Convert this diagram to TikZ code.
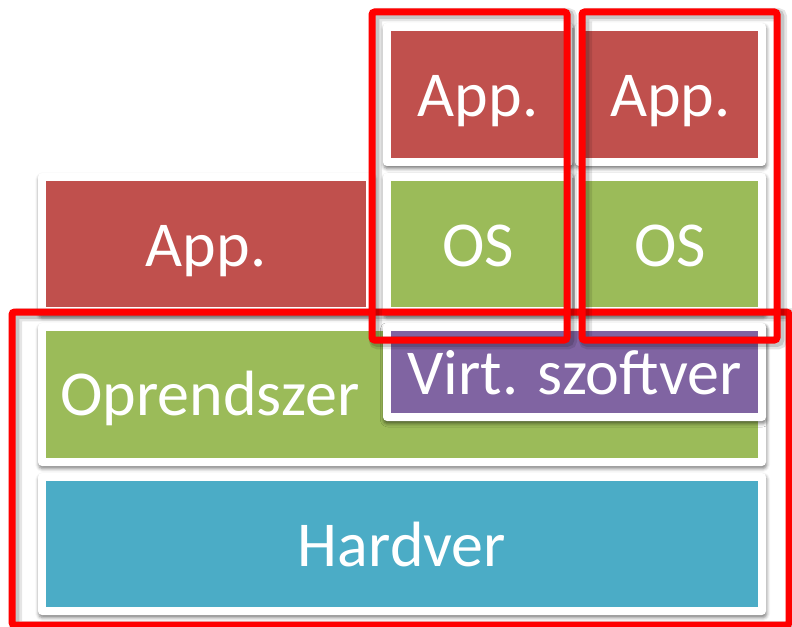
\documentclass[tikz,border=0pt]{standalone}
\usepackage{fontspec}
\setmainfont{Carlito}
\usetikzlibrary{shadows.blur}
\definecolor{appred}{HTML}{C0504D}
\definecolor{osgreen}{HTML}{9BBB59}
\definecolor{virtpurple}{HTML}{8064A2}
\definecolor{hwblue}{HTML}{4BACC6}
\definecolor{framered}{HTML}{FF0000}
\begin{document}
\begin{tikzpicture}[x=0.75pt,y=-0.75pt,
  layerbox/.style={fill=white, draw=none, rounded corners=3pt, inner sep=0pt,
    text=white, font=\fontsize{48}{56}\selectfont, text height=33.6pt, text depth=0pt,
    path picture={\fill[#1, sharp corners]
      ([shift={(6pt,-6pt)}]path picture bounding box.north west) rectangle
      ([shift={(-6pt,6pt)}]path picture bounding box.south east);},
    blur shadow={shadow xshift=0.5pt, shadow yshift=-2pt, shadow blur radius=2.5pt,
      shadow opacity=50}},
  vmframe/.style={draw=framered, line width=5.25pt, rounded corners=2pt, inner sep=0pt,
    preaction={draw=black, draw opacity=0.10, line width=10pt,
      transform canvas={xshift=2.6pt, yshift=-2pt}},
    preaction={draw=black, draw opacity=0.14, line width=7pt,
      transform canvas={xshift=2pt, yshift=-1.6pt}}},
  labeltext/.style={text=white, font=\fontsize{48}{56}\selectfont, inner sep=0pt}]
  \useasboundingbox (0,0) rectangle (792,627);
  % host stack
  \node[layerbox=appred, minimum width=252pt, minimum height=106.5pt] (appL) at (206,244) {App.};
  \node[layerbox=osgreen, minimum width=546pt, minimum height=107.25pt] (opr) at (402,394.5) {};
  \node[labeltext, anchor=base west] (oprtext) at (60,415) {Oprendszer};
  \node[layerbox=hwblue, minimum width=546pt, minimum height=106.5pt] (hw) at (402,544) {Hardver};
  \node[layerbox=virtpurple, minimum width=287.25pt, minimum height=73.5pt] (virt) at (574.5,372) {Virt. szoftver};
  % guest stacks
  \node[layerbox=osgreen, minimum width=142.5pt, minimum height=106.5pt] (os1) at (478,244) {OS};
  \node[layerbox=osgreen, minimum width=143.25pt, minimum height=106.5pt] (os2) at (670.5,244) {OS};
  \node[layerbox=appred, minimum width=142.5pt, minimum height=107.25pt] (app1) at (478,94.5) {App.};
  \node[layerbox=appred, minimum width=143.25pt, minimum height=107.25pt] (app2) at (670.5,94.5) {App.};
  % grouping frames
  \node[vmframe, minimum width=582.75pt, minimum height=234.75pt] (host) at (400.5,468.5) {};
  \node[vmframe, minimum width=146.25pt, minimum height=246pt] (vm1) at (469.5,176) {};
  \node[vmframe, minimum width=146.25pt, minimum height=246pt] (vm2) at (679.5,176) {};
\end{tikzpicture}
\end{document}
